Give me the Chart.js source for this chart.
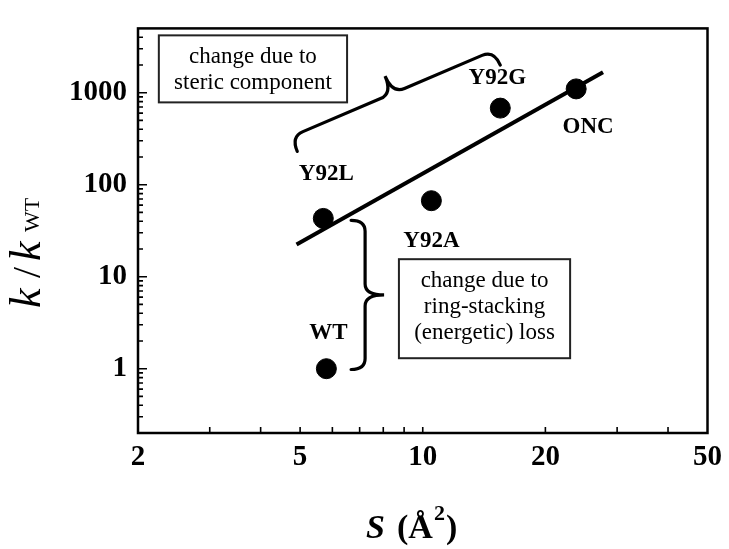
<!DOCTYPE html>
<html>
<head>
<meta charset="utf-8">
<script src="https://cdn.jsdelivr.net/npm/chart.js@4.4.0/dist/chart.umd.min.js"></script>
<style>
  html, body { margin: 0; padding: 0; background: #fff; }
  canvas { display: block; }
</style>
</head>
<body>
<canvas id="chart" width="729" height="549"></canvas>
<script>
// values
const variants = ['WT', 'Y92L', 'Y92A', 'Y92G', 'ONC'];
const surfaceArea = [5.8, 5.7, 10.5, 15.5, 23.8];   // S (A^2)
const rateRatio = [1, 43, 67, 680, 1100];           // k / kWT
const fitS = [4.9, 27.7];
const fitK = [22.4, 1670];
const xTickLabels = [2, 5, 10, 20, 50];
const yTickLabels = [1, 10, 100, 1000];

// label placement (pixels from the point)
const labelOffsets = { WT: [2, -36], Y92L: [3, -44], Y92A: [0, 40], Y92G: [-3, -30], ONC: [12, 38] };

// annotation boxes + braces, in data coords
const boxes = [
  { x0: 2.25, x1: 6.52, y0: 4200, y1: 785, lines: ['change due to', 'steric component'] },
  { x0: 8.74, x1: 23.0, y0: 15.5, y1: 1.3, lines: ['change due to', 'ring-stacking', '(energetic) loss'] }
];
const braces = [
  { from: [4.92, 230], to: [15.5, 2000], hook: 16, tip: 35, r: 13 },
  { from: [6.67, 41], to: [6.67, 0.98], hook: 14, tip: 33, r: 11 }
];

const serif = '"Liberation Serif", "Times New Roman", serif';

const extras = {
  id: 'extras',
  afterDraw(chart) {
    const c = chart.ctx, a = chart.chartArea;
    const xs = chart.scales.x, ys = chart.scales.y;
    const px = v => xs.getPixelForValue(v), py = v => ys.getPixelForValue(v);
    c.save();
    c.strokeStyle = '#000';
    c.fillStyle = '#000';

    // frame
    c.lineWidth = 2.5;
    c.strokeRect(a.left, a.top, a.right - a.left, a.bottom - a.top);

    // inward tick marks
    c.lineWidth = 1.6;
    c.beginPath();
    for (let d = -1; d <= 3; d++) {
      for (let m = 1; m <= 9; m++) {
        const v = m * Math.pow(10, d);
        if (v <= ys.min || v >= ys.max) continue;
        const y = py(v), len = m === 1 ? 9 : 5;
        c.moveTo(a.left, y); c.lineTo(a.left + len, y);
      }
    }
    for (let d = 0; d <= 1; d++) {
      for (let m = 1; m <= 9; m++) {
        const v = m * Math.pow(10, d);
        if (v <= xs.min || v >= xs.max) continue;
        const x = px(v);
        c.moveTo(x, a.bottom); c.lineTo(x, a.bottom - 6);
      }
    }
    c.stroke();

    // boxes
    c.lineWidth = 2;
    c.strokeStyle = '#222';
    c.font = '23px ' + serif;
    c.textAlign = 'center';
    c.textBaseline = 'alphabetic';
    boxes.forEach(b => {
      const l = px(b.x0), r = px(b.x1), t = py(b.y0), btm = py(b.y1);
      c.strokeRect(l, t, r - l, btm - t);
      b.lines.forEach((s, i) => c.fillText(s, (l + r) / 2, t + 28 + 26 * i));
    });

    // braces
    c.strokeStyle = '#000';
    c.lineWidth = 3.2;
    c.lineCap = 'round';
    braces.forEach(br => {
      const x1 = px(br.from[0]), y1 = py(br.from[1]);
      const x2 = px(br.to[0]), y2 = py(br.to[1]);
      const L = Math.hypot(x2 - x1, y2 - y1), h = br.hook, t = br.tip, r = br.r;
      c.save();
      c.translate(x1, y1);
      c.rotate(Math.atan2(y2 - y1, x2 - x1));
      c.beginPath();
      c.moveTo(0, 0);
      c.quadraticCurveTo(0, -h, r, -h);
      c.lineTo(L / 2 - r, -h);
      c.quadraticCurveTo(L / 2, -h, L / 2, -t);
      c.quadraticCurveTo(L / 2, -h, L / 2 + r, -h);
      c.lineTo(L - r, -h);
      c.quadraticCurveTo(L, -h, L, 0);
      c.stroke();
      c.restore();
    });

    // point labels
    c.font = 'bold 23px ' + serif;
    c.textBaseline = 'middle';
    variants.forEach((name, i) => {
      const o = labelOffsets[name];
      c.fillText(name, px(surfaceArea[i]) + o[0], py(rateRatio[i]) + o[1]);
    });

    // y title: k / k_WT
    c.save();
    c.translate(40, 308);
    c.rotate(-Math.PI / 2);
    c.textAlign = 'left';
    c.textBaseline = 'alphabetic';
    c.font = 'italic 44px ' + serif;
    c.fillText('k', 0, 0);
    c.font = '40px ' + serif;
    c.fillText('/', 30, 0);
    c.font = 'italic 44px ' + serif;
    c.fillText('k', 47, 0);
    c.font = '22px ' + serif;
    c.fillText('WT', 76, -1);
    c.restore();

    // x title: S (A^2)
    c.textAlign = 'left';
    c.textBaseline = 'alphabetic';
    c.font = 'italic bold 34px ' + serif;
    c.fillText('S', 366, 538);
    c.font = 'bold 34px ' + serif;
    c.fillText('(Å', 397, 538);
    let xx = 397 + c.measureText('(Å').width + 1;
    c.font = 'bold 22px ' + serif;
    c.fillText('2', xx, 520);
    xx += c.measureText('2').width + 1;
    c.font = 'bold 34px ' + serif;
    c.fillText(')', xx, 538);

    c.restore();
  }
};

const tickFont = { family: serif, weight: 'bold', size: 29 };

new Chart(document.getElementById('chart').getContext('2d'), {
  type: 'scatter',
  data: {
    datasets: [
      {
        label: 'fit',
        type: 'line',
        data: fitS.map((s, i) => ({ x: s, y: fitK[i] })),
        borderColor: '#000',
        borderWidth: 4,
        pointRadius: 0,
        fill: false,
        tension: 0
      },
      {
        label: 'variants',
        data: surfaceArea.map((s, i) => ({ x: s, y: rateRatio[i] })),
        backgroundColor: '#000',
        borderColor: '#000',
        pointRadius: 10,
        pointHoverRadius: 10
      }
    ]
  },
  options: {
    responsive: false,
    animation: false,
    events: [],
    layout: { padding: { top: 12, right: 19, left: 0, bottom: 0 } },
    plugins: { legend: { display: false }, tooltip: { enabled: false } },
    scales: {
      x: {
        type: 'logarithmic',
        min: 2,
        max: 50,
        grid: { display: false, drawTicks: false },
        border: { display: false },
        afterBuildTicks: s => { s.ticks = xTickLabels.map(v => ({ value: v })); },
        afterFit: s => { s.height = 116; },
        ticks: { callback: v => String(v), font: tickFont, color: '#000', padding: 7, maxRotation: 0, autoSkip: false }
      },
      y: {
        type: 'logarithmic',
        min: 0.2,
        max: 5000,
        grid: { display: false, drawTicks: false },
        border: { display: false },
        afterBuildTicks: s => { s.ticks = yTickLabels.map(v => ({ value: v })); },
        afterFit: s => { s.width = 138; },
        ticks: { callback: v => String(v), font: tickFont, color: '#000', padding: 11, autoSkip: false }
      }
    }
  },
  plugins: [extras]
});
</script>
</body>
</html>
